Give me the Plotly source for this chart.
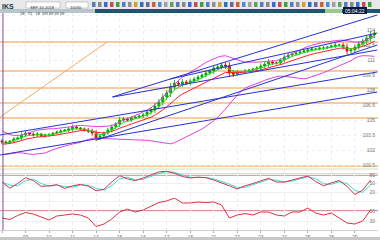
import plotly.graph_objects as go
from plotly.subplots import make_subplots
import pandas as pd

# ---------------- data ----------------
day_labels = ["08", "09", "10", "11", "14", "15", "16", "17", "18",
              "21", "22", "23", "24", "25", "28", "29"]
bars_per_day = 6

history_close = [104.0, 103.8, 103.9, 103.5, 103.2, 103.4, 103.0, 102.6, 102.8, 102.4,
                 102.1, 102.3, 102.0, 101.8, 102.1, 102.4, 102.2, 102.6, 102.5, 102.9]

close = [102.8, 102.7, 102.9, 103.1, 103.2, 103.5, 103.7, 103.6, 103.5, 103.6,
         103.4, 103.5, 103.5, 103.7, 103.8, 103.9, 104.0, 104.1, 104.3, 104.2,
         104.1, 104.0, 103.9, 103.7, 103.2, 103.4, 103.7, 104.0, 104.3, 104.6,
         105.0, 105.1, 105.0, 105.2, 105.3, 105.4, 105.5, 105.8, 106.0, 106.4,
         106.8, 107.3, 107.7, 108.3, 108.7, 108.6, 108.8, 108.7, 108.9, 109.1,
         109.3, 109.5, 109.7, 109.9, 110.2, 110.3, 110.5, 110.4, 109.7, 109.6,
         109.8, 109.8, 109.9, 110.0, 110.1, 110.2, 110.4, 110.6, 110.8, 110.7,
         110.7, 111.0, 111.3, 111.5, 111.6, 111.7, 111.8, 111.9, 112.0, 112.1,
         112.1, 112.2, 112.2, 112.3, 112.4, 112.5, 112.5, 112.3, 111.9, 112.0,
         112.3, 112.6, 112.9, 113.2, 113.5, 113.7]

wick = [0.2, 0.15, 0.1, 0.2, 0.15, 0.25, 0.2, 0.1, 0.15, 0.2,
        0.1, 0.15, 0.2, 0.1, 0.15, 0.2, 0.1, 0.2, 0.25, 0.15,
        0.1, 0.15, 0.2, 0.25, 0.3, 0.2, 0.15, 0.2, 0.25, 0.2,
        0.3, 0.2, 0.15, 0.2, 0.1, 0.15, 0.2, 0.2, 0.25, 0.3,
        0.3, 0.35, 0.3, 0.4, 0.3, 0.25, 0.3, 0.2, 0.25, 0.2,
        0.2, 0.15, 0.25, 0.2, 0.3, 0.2, 0.25, 0.3, 0.4, 0.3,
        0.2, 0.15, 0.2, 0.1, 0.15, 0.2, 0.25, 0.2, 0.3, 0.2,
        0.15, 0.2, 0.25, 0.2, 0.15, 0.2, 0.15, 0.1, 0.2, 0.15,
        0.1, 0.15, 0.2, 0.1, 0.15, 0.2, 0.15, 0.25, 0.35, 0.2,
        0.25, 0.3, 0.25, 0.3, 0.35, 0.3]

price_levels = [112.8, 109.9, 108.2, 106.7, 105.2, 100.4]

# orange diagonal: (bar index, price) start/end
orange_x = [-0.5, 26.8]
orange_y = [105.3, 112.8]

# blue trend lines: start bar, start price, end bar, end price
blue_x0 = [28.1, 28.3, -0.5, 24.2, -0.5, 42.9]
blue_y0 = [107.3, 107.3, 103.5, 103.0, 101.5, 109.1]
blue_x1 = [95.7, 95.7, 95.7, 95.7, 95.7, 95.7]
blue_y1 = [115.5, 112.0, 109.8, 112.5, 107.8, 113.7]

# oscillators sampled every 2 bars
stoch_k = [55, 34, 50, 70, 60, 40, 42, 46, 33, 42, 47, 41, 25, 30, 55, 77,
           66, 60, 69, 80, 90, 92, 85, 74, 69, 72, 70, 62, 53, 42, 31, 42,
           50, 60, 68, 55, 55, 62, 70, 76, 57, 42, 52, 60, 40, 12, 27, 62]
rsi = [36, 33, 41, 47, 44, 38, 32, 40, 42, 44, 42, 36, 19, 24, 34, 48,
       54, 48, 52, 60, 67, 70, 76, 66, 66, 68, 67, 68, 62, 36, 42, 45,
       42, 48, 48, 42, 40, 48, 48, 56, 46, 42, 46, 36, 26, 24, 30, 52]
stoch_level = 80
rsi_level = 50

# ---------------- derived ----------------
full = pd.Series(history_close + close)
n_hist = len(history_close)
ema_fast = full.ewm(span=4, adjust=False).mean().iloc[n_hist:].tolist()
ema_slow = full.ewm(span=10, adjust=False).mean().iloc[n_hist:].tolist()
mid = full.rolling(20, min_periods=2).mean()
sd = full.rolling(20, min_periods=2).std()
bb_up = (mid + 2 * sd).iloc[n_hist:].tolist()
bb_lo = (mid - 2 * sd).iloc[n_hist:].tolist()

idx = list(range(len(close)))
opens = [history_close[-1]] + close[:-1]
highs = [max(o, c) + w for o, c, w in zip(opens, close, wick)]
lows = [min(o, c) - w for o, c, w in zip(opens, close, wick)]
osc_x = idx[::2]
stoch_d = pd.Series(stoch_k).rolling(2, min_periods=1).mean().tolist()

# ---------------- figure ----------------
W, H = 380, 240
ML, MR, MT, MB = 0, 2, 13, 10
PW, PH = W - ML - MR, H - MT - MB


def py(p):  # pixel y -> paper y
    return (H - MB - p) / PH


def px(p):  # pixel x -> paper x
    return (p - ML) / PW


fig = make_subplots(rows=3, cols=1, shared_xaxes=True, vertical_spacing=0)

fig.add_trace(go.Candlestick(
    x=idx, open=opens, high=highs, low=lows, close=close,
    increasing=dict(line=dict(color="#009a00", width=0.8), fillcolor="#00d000"),
    decreasing=dict(line=dict(color="#d00000", width=0.8), fillcolor="#ff2020"),
    whiskerwidth=0, showlegend=False), row=1, col=1)

for yy in (bb_up, bb_lo):
    fig.add_trace(go.Scatter(x=idx, y=yy, mode="lines",
                             line=dict(color="#e040e0", width=1), showlegend=False), row=1, col=1)
fig.add_trace(go.Scatter(x=idx, y=ema_slow, mode="lines",
                         line=dict(color="#ff2020", width=1), showlegend=False), row=1, col=1)
fig.add_trace(go.Scatter(x=idx, y=ema_fast, mode="lines",
                         line=dict(color="#20e020", width=1), showlegend=False), row=1, col=1)

fig.add_trace(go.Scatter(x=orange_x, y=orange_y, mode="lines",
                         line=dict(color="#f4a868", width=1), showlegend=False), row=1, col=1)
for a, b, c, d in zip(blue_x0, blue_y0, blue_x1, blue_y1):
    fig.add_trace(go.Scatter(x=[a, c], y=[b, d], mode="lines",
                             line=dict(color="#2830d0", width=1), showlegend=False), row=1, col=1)

fig.add_trace(go.Scatter(x=osc_x, y=stoch_d, mode="lines",
                         line=dict(color="#40d8d0", width=1), showlegend=False), row=2, col=1)
fig.add_trace(go.Scatter(x=osc_x, y=stoch_k, mode="lines",
                         line=dict(color="#c83850", width=1), showlegend=False), row=2, col=1)
fig.add_trace(go.Scatter(x=osc_x, y=rsi, mode="lines",
                         line=dict(color="#e03040", width=1), showlegend=False), row=3, col=1)

shapes = []
for lv in price_levels:
    shapes.append(dict(type="line", xref="paper", yref="y", x0=0, x1=1, y0=lv, y1=lv,
                       line=dict(color="#f4b880", width=1.5), layer="below"))
shapes.append(dict(type="line", xref="paper", yref="y2", x0=0, x1=1, y0=stoch_level, y1=stoch_level,
                   line=dict(color="#dca0a0", width=2.5), layer="below"))
shapes.append(dict(type="line", xref="paper", yref="y3", x0=0, x1=1, y0=rsi_level, y1=rsi_level,
                   line=dict(color="#a02828", width=1), layer="below"))
shapes.append(dict(type="line", xref="paper", yref="paper", x0=0, x1=1, y0=py(169), y1=py(169),
                   line=dict(color="#c8e4b8", width=1)))
shapes.append(dict(type="line", xref="x", yref="paper", x0=0.25, x1=0.25, y0=0, y1=1,
                   line=dict(color="#8848a8", width=1)))
# toolbar strips
shapes.append(dict(type="rect", xref="paper", yref="paper", x0=px(0), x1=px(W), y0=py(0), y1=py(9),
                   fillcolor="#e6e8ea", line=dict(width=0)))
shapes.append(dict(type="rect", xref="paper", yref="paper", x0=px(0), x1=px(95), y0=py(9), y1=py(13),
                   fillcolor="#b8c6cc", line=dict(width=0)))
shapes.append(dict(type="rect", xref="paper", yref="paper", x0=px(95), x1=px(W), y0=py(9), y1=py(13),
                   fillcolor="#1c5670", line=dict(width=0)))
shapes.append(dict(type="rect", xref="paper", yref="paper", x0=px(325), x1=px(342), y0=py(9), y1=py(13),
                   fillcolor="#9cc890", line=dict(width=0)))
shapes.append(dict(type="rect", xref="paper", yref="paper", x0=px(343), x1=px(367), y0=py(7), y1=py(14),
                   fillcolor="#0c1c40", line=dict(width=0)))
shapes.append(dict(type="rect", xref="paper", yref="paper", x0=px(26), x1=px(60), y0=py(2), y1=py(8),
                   fillcolor="#ffffff", line=dict(color="#a0a0a0", width=0.5)))
shapes.append(dict(type="rect", xref="paper", yref="paper", x0=px(66), x1=px(88), y0=py(2), y1=py(8),
                   fillcolor="#ffffff", line=dict(color="#a0a0a0", width=0.5)))
shapes.append(dict(type="rect", xref="paper", yref="paper", x0=px(0), x1=px(W), y0=py(237), y1=py(H),
                   fillcolor="#c8c8c8", line=dict(width=0)))
icon_colors = ["#5a7ab8", "#888888", "#3a6ad0", "#c05050", "#40a040", "#5080c0", "#909090",
               "#d0a030", "#3070c0", "#6a6a9a", "#d06030", "#4a90d0", "#a0a0a0", "#60a060"]
xx, k = 92, 0
while xx < 372:
    shapes.append(dict(type="rect", xref="paper", yref="paper", x0=px(xx), x1=px(xx + 3.5),
                       y0=py(2), y1=py(7), fillcolor=icon_colors[k % len(icon_colors)],
                       line=dict(width=0)))
    xx += 6
    k += 1

annotations = [
    dict(text="<b>IKS</b>", x=px(0), y=py(1), xref="paper", yref="paper", xanchor="left",
         yanchor="top", showarrow=False, font=dict(size=7, color="#203040", family="Liberation Sans")),
    dict(text="SEP-10-2018", x=px(28), y=py(2.5), xref="paper", yref="paper", xanchor="left",
         yanchor="top", showarrow=False, font=dict(size=4, color="#333", family="Liberation Sans")),
    dict(text="10030", x=px(68), y=py(2.5), xref="paper", yref="paper", xanchor="left",
         yanchor="top", showarrow=False, font=dict(size=4, color="#333", family="Liberation Sans")),
    dict(text="18   71   18  IIIII IIII IIII IIII", x=px(18), y=py(9), xref="paper", yref="paper",
         xanchor="left", yanchor="top", showarrow=False,
         font=dict(size=4, color="#303840", family="Liberation Sans")),
    dict(text="05:04:22", x=px(355), y=py(10.5), xref="paper", yref="paper", xanchor="center",
         yanchor="middle", showarrow=False, font=dict(size=5, color="#ffffff", family="Liberation Sans")),
]

tickfont = dict(size=5, color="#777777", family="Liberation Sans")
fig.update_layout(
    width=W, height=H, margin=dict(l=ML, r=MR, t=MT, b=MB),
    paper_bgcolor="#ffffff", plot_bgcolor="#ffffff", showlegend=False,
    shapes=shapes, annotations=annotations,
)
ax_common = dict(showgrid=True, gridcolor="#ececec", griddash="dot", zeroline=False,
                 range=[-0.51, 95.9], tickvals=idx[::bars_per_day],
                 ticktext=day_labels, ticks="outside", ticklen=2, tickcolor="#aaaaaa",
                 tickfont=tickfont)
fig.update_layout(
    xaxis=dict(**ax_common, rangeslider=dict(visible=False), showticklabels=False, showline=False),
    xaxis2=dict(**ax_common, showticklabels=False, showline=False),
    xaxis3=dict(**ax_common, showticklabels=True, showline=True, linecolor="#d0d0d0"),
    yaxis=dict(domain=[py(168), 1], range=[100.2, 115.7], side="right", dtick=1.5,
               showgrid=True, gridcolor="#f0f0f0", griddash="dot", zeroline=False,
               ticklabelposition="inside", tickfont=tickfont),
    yaxis2=dict(domain=[py(198), py(169)], range=[0, 100], side="right", showgrid=True,
                gridcolor="#f0f0f0", zeroline=False, tickvals=[20, 50, 80],
                ticklabelposition="inside", tickfont=tickfont),
    yaxis3=dict(domain=[0, py(198)], range=[12, 76], side="right", showgrid=True,
                gridcolor="#f0f0f0", zeroline=False, tickvals=[30, 50, 70],
                ticklabelposition="inside", tickfont=tickfont),
)

fig.write_html("out.html")
